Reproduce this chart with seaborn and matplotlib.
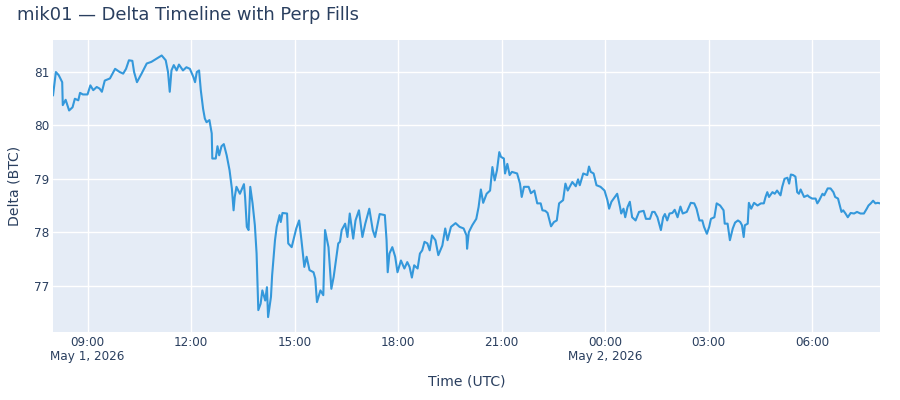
import pandas as pd
import numpy as np
import matplotlib
matplotlib.use('Agg')
import matplotlib.pyplot as plt
import seaborn as sns

# minuti dall'inizio (01/05/2026 08:00 UTC) e delta
minutes = [0, 5, 10, 16, 17, 22, 28, 34, 38, 44, 47, 52, 60, 65, 70, 76, 81, 85, 90, 99,
           108, 116, 122, 127, 132, 138, 141, 146, 154, 163, 171, 180, 189, 196, 200, 203,
           206, 210, 215, 219, 226, 232, 238, 244, 247, 250, 254, 257, 261, 264, 267, 272,
           276, 277, 283, 286, 289, 293, 297, 302, 307, 311, 314, 316, 319, 325, 332, 334,
           337, 340, 343, 347, 351, 354, 357, 361, 364, 369, 372, 374, 379, 381, 386, 389,
           394, 396, 399, 407, 409, 415, 423, 428, 432, 437, 441, 446, 453, 456, 459, 465,
           470, 473, 479, 484, 488, 492, 496, 499, 502, 508, 512, 516, 522, 526, 532, 538,
           543, 550, 556, 560, 568, 577, 580, 582, 585, 590, 595, 599, 605, 611, 616, 620,
           624, 628, 634, 638, 642, 646, 651, 655, 659, 665, 670, 677, 682, 686, 692, 700,
           707, 714, 719, 720, 723, 729, 736, 740, 744, 748, 754, 760, 764, 768, 772, 776,
           779, 784, 786, 790, 794, 798, 807, 812, 815, 819, 827, 831, 837, 842, 848, 851,
           856, 860, 866, 871, 876, 880, 887, 891, 895, 903, 909, 913, 916, 922, 929, 932,
           935, 940, 945, 952, 959, 964, 967, 971, 977, 981, 986, 988, 992, 995, 999, 1003,
           1007, 1013, 1019, 1027, 1031, 1038, 1042, 1046, 1051, 1057, 1061, 1064, 1068, 1072,
           1077, 1081, 1086, 1091, 1095, 1102, 1109, 1115, 1119, 1124, 1129, 1132, 1137, 1141,
           1144, 1150, 1154, 1160, 1166, 1168, 1173, 1177, 1182, 1186, 1191, 1195, 1198, 1201,
           1203, 1208, 1210, 1214, 1219, 1225, 1231, 1236, 1239, 1242, 1245, 1251, 1255, 1259,
           1265, 1268, 1272, 1277, 1280, 1283, 1287, 1291, 1294, 1297, 1300, 1306, 1312, 1315,
           1320, 1326, 1329, 1332, 1338, 1341, 1347, 1352, 1357, 1360, 1365, 1371, 1374, 1378,
           1382, 1387, 1393, 1398, 1404, 1410, 1415, 1418, 1422, 1426, 1430, 1434, 1438]
delta = [80.56, 81.00, 80.94, 80.81, 80.38, 80.48, 80.28, 80.34, 80.50, 80.47, 80.61, 80.58,
         80.58, 80.75, 80.66, 80.72, 80.69, 80.63, 80.84, 80.88, 81.06, 81.00, 80.97, 81.06,
         81.22, 81.21, 81.00, 80.81, 80.97, 81.16, 81.19, 81.25, 81.31, 81.22, 81.00, 80.63,
         81.03, 81.13, 81.03, 81.14, 81.03, 81.09, 81.06, 80.91, 80.81, 81.00, 81.03, 80.66,
         80.31, 80.13, 80.06, 80.10, 79.85, 79.38, 79.38, 79.61, 79.44, 79.61, 79.65, 79.44,
         79.16, 78.82, 78.41, 78.66, 78.85, 78.72, 78.90, 78.66, 78.10, 78.04, 78.85, 78.54,
         78.13, 77.60, 76.54, 76.66, 76.91, 76.72, 76.97, 76.41, 76.79, 77.19, 77.85, 78.10,
         78.32, 78.19, 78.36, 78.35, 77.79, 77.72, 78.07, 78.22, 77.85, 77.35, 77.54, 77.29,
         77.25, 77.13, 76.69, 76.91, 76.82, 78.04, 77.72, 76.94, 77.16, 77.47, 77.79, 77.82,
         78.04, 78.16, 77.91, 78.35, 77.88, 78.22, 78.41, 77.91, 78.16, 78.44, 78.04, 77.91,
         78.34, 78.32, 77.85, 77.25, 77.60, 77.72, 77.54, 77.25, 77.47, 77.32, 77.44, 77.35,
         77.15, 77.38, 77.32, 77.60, 77.66, 77.82, 77.79, 77.66, 77.94, 77.85, 77.57, 77.75,
         78.07, 77.85, 78.10, 78.17, 78.10, 78.07, 77.94, 77.69, 78.00, 78.13, 78.25, 78.47,
         78.80, 78.55, 78.72, 78.78, 79.22, 78.97, 79.16, 79.50, 79.41, 79.38, 79.10, 79.28,
         79.07, 79.13, 79.10, 78.91, 78.66, 78.85, 78.85, 78.73, 78.78, 78.54, 78.54, 78.41,
         78.40, 78.36, 78.11, 78.19, 78.22, 78.54, 78.60, 78.91, 78.78, 78.94, 78.86, 78.99,
         78.88, 79.10, 79.07, 79.23, 79.13, 79.10, 78.88, 78.85, 78.78, 78.60, 78.44, 78.57,
         78.66, 78.72, 78.47, 78.35, 78.44, 78.28, 78.47, 78.57, 78.28, 78.22, 78.38, 78.40,
         78.25, 78.25, 78.38, 78.38, 78.28, 78.04, 78.28, 78.34, 78.22, 78.35, 78.36, 78.42,
         78.28, 78.48, 78.35, 78.38, 78.55, 78.54, 78.44, 78.22, 78.22, 78.10, 77.97, 78.10,
         78.25, 78.28, 78.54, 78.50, 78.41, 78.16, 78.16, 77.85, 78.07, 78.18, 78.22, 78.19,
         78.13, 77.91, 78.13, 78.16, 78.55, 78.44, 78.55, 78.50, 78.54, 78.54, 78.66, 78.75,
         78.66, 78.75, 78.72, 78.78, 78.69, 78.85, 79.00, 79.02, 78.91, 79.08, 79.07, 79.04,
         78.75, 78.72, 78.80, 78.66, 78.69, 78.66, 78.63, 78.63, 78.54, 78.59, 78.72, 78.69,
         78.82, 78.82, 78.75, 78.66, 78.63, 78.38, 78.41, 78.35, 78.28, 78.36, 78.35, 78.38,
         78.35, 78.35, 78.44, 78.50, 78.54, 78.59, 78.54, 78.55, 78.54]

START = pd.Timestamp('2026-05-01 08:00')
tick_times = ['2026-05-01 09:00', '2026-05-01 12:00', '2026-05-01 15:00', '2026-05-01 18:00',
              '2026-05-01 21:00', '2026-05-02 00:00', '2026-05-02 03:00', '2026-05-02 06:00']
tick_labels = ['09:00\nMay 1, 2026', '12:00', '15:00', '18:00', '21:00',
               '00:00\nMay 2, 2026', '03:00', '06:00']
y_ticks = [77, 78, 79, 80, 81]

df = pd.DataFrame({'time': START + pd.to_timedelta(minutes, unit='min'), 'delta': delta})

TXT = '#2a3f5f'
sns.set_style('darkgrid', {'axes.facecolor': '#E5ECF6', 'grid.color': 'white'})
plt.rcParams['font.family'] = ['DejaVu Sans']

fig = plt.figure(figsize=(9, 4), dpi=100)
ax = fig.add_axes([53 / 900, 1 - 331.5 / 400, 827 / 900, 291.5 / 400])

sns.lineplot(data=df, x='time', y='delta', ax=ax, color='#3498db', linewidth=1.5)

ax.set_xlim(START, START + pd.Timedelta(minutes=1438))
ax.set_ylim(76.14, 81.6)
ax.set_xticks(pd.to_datetime(tick_times))
ax.set_xticklabels(tick_labels, fontsize=8.64, color=TXT, linespacing=1.15)
ax.set_yticks(y_ticks)
ax.set_yticklabels([str(v) for v in y_ticks], fontsize=8.64, color=TXT)
ax.tick_params(axis='both', length=0)
ax.tick_params(axis='x', pad=3)
ax.tick_params(axis='y', pad=2.5)
ax.grid(True, color='white', linewidth=1)
for s in ax.spines.values():
    s.set_visible(False)

ax.set_xlabel('Time (UTC)', fontsize=10.08, color=TXT, labelpad=8)
ax.set_ylabel('Delta (BTC)', fontsize=10.08, color=TXT, labelpad=9)
fig.text(17 / 900, 1 - 15 / 400, 'mik01 — Delta Timeline with Perp Fills',
         fontsize=12.9, color=TXT, va='center', ha='left')

fig.savefig('out.png', dpi=100, facecolor='white')
